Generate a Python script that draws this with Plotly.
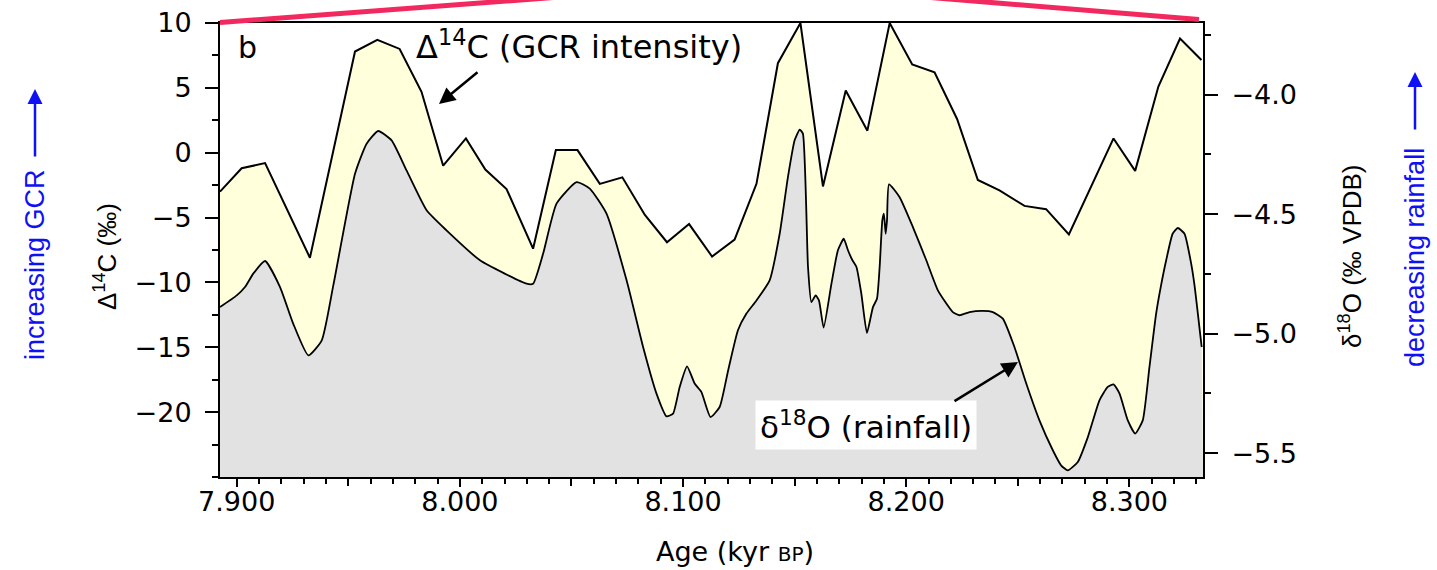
import plotly.graph_objects as go

# Radiocarbon record (Δ14C, per mil) – left axis
c14_age = [7.8925, 7.9022, 7.9127, 7.9328, 7.9530, 7.9630, 7.9730, 7.9828, 7.9925,
           8.0027, 8.0114, 8.0209, 8.0328, 8.0430, 8.0527, 8.0627, 8.0728, 8.0829,
           8.0928, 8.1027, 8.1130, 8.1231, 8.1329, 8.1425, 8.1526, 8.1627, 8.1729,
           8.1826, 8.1926, 8.2027, 8.2127, 8.2228, 8.2321, 8.2418, 8.2530, 8.2627,
           8.2729, 8.2929, 8.3026, 8.3130, 8.3227, 8.3323]
c14_val = [-3.0, -1.2, -0.8, -8.1, 7.8, 8.7, 8.0, 4.7, -1.0,
           1.1, -1.3, -2.8, -7.4, 0.2, 0.2, -2.4, -1.9, -4.8,
           -6.9, -5.5, -8.0, -6.7, -2.4, 6.9, 10.0, -2.6, 4.8,
           1.7, 10.0, 6.8, 6.2, 2.6, -2.1, -2.9, -4.1, -4.35,
           -6.3, 1.1, -1.4, 5.1, 8.8, 7.15]

# Speleothem oxygen isotopes (δ18O, per mil VPDB) – right axis
o18_age = [7.8925, 7.9000, 7.9037, 7.9074, 7.9127, 7.9194, 7.9253, 7.9321, 7.9381,
           7.9433, 7.9530, 7.9582, 7.9634, 7.9694, 7.9761, 7.9851, 7.9940, 8.0090,
           8.0299, 8.0328, 8.0373, 8.0433, 8.0523, 8.0582, 8.0657, 8.0747, 8.0821,
           8.0881, 8.0926, 8.0955, 8.0985, 8.1018, 8.1052, 8.1082, 8.1123, 8.1164,
           8.1202, 8.1246, 8.1284, 8.1329, 8.1388, 8.1433, 8.1470, 8.1500, 8.1523,
           8.1537, 8.1560, 8.1575, 8.1594, 8.1609, 8.1630, 8.1665, 8.1694, 8.1720,
           8.1739, 8.1759, 8.1777, 8.1799, 8.1824, 8.1851, 8.1869, 8.1881, 8.1893,
           8.1900, 8.1908, 8.1914, 8.1923, 8.1970, 8.2030, 8.2090, 8.2142, 8.2209,
           8.2239, 8.2284, 8.2343, 8.2388, 8.2433, 8.2485, 8.2538, 8.2597, 8.2657,
           8.2694, 8.2724, 8.2769, 8.2814, 8.2866, 8.2903, 8.2929, 8.2956, 8.2993,
           8.3026, 8.3060, 8.3090, 8.3120, 8.3142, 8.3165, 8.3194, 8.3217, 8.3247,
           8.3277, 8.3292, 8.3324]
o18_val = [-4.889, -4.840, -4.805, -4.749, -4.696, -4.805, -4.958, -5.091, -5.028,
           -4.797, -4.331, -4.205, -4.152, -4.191, -4.317, -4.484, -4.568, -4.693,
           -4.791, -4.791, -4.665, -4.456, -4.366, -4.393, -4.498, -4.777, -5.056,
           -5.251, -5.346, -5.335, -5.223, -5.137, -5.209, -5.244, -5.349, -5.307,
           -5.154, -4.986, -4.916, -4.861, -4.777, -4.582, -4.345, -4.191, -4.146,
           -4.163, -4.721, -4.868, -4.840, -4.861, -4.975, -4.791, -4.651, -4.603,
           -4.651, -4.693, -4.721, -4.833, -4.997, -4.889, -4.854, -4.721, -4.526,
           -4.498, -4.582, -4.526, -4.375, -4.428, -4.554, -4.693, -4.819, -4.910,
           -4.923, -4.910, -4.905, -4.910, -4.937, -5.056, -5.209, -5.363, -5.488,
           -5.551, -5.572, -5.537, -5.433, -5.279, -5.223, -5.212, -5.251, -5.363,
           -5.418, -5.363, -5.140, -4.916, -4.798, -4.693, -4.582, -4.558, -4.582,
           -4.707, -4.798, -5.056]

x_range = [7.8925, 8.333]
c14_range = [-25, 10]
o18_range = [-5.6, -3.70]

x_ticks = [7.90, 8.00, 8.10, 8.20, 8.30]
x_labels = ["7.900", "8.000", "8.100", "8.200", "8.300"]
x_half_ticks = [7.95, 8.05, 8.15, 8.25]
c14_ticks = [-20, -15, -10, -5, 0, 5, 10]
o18_ticks = [-5.5, -5.0, -4.5, -4.0]

YELLOW = "#ffffdc"
GRAY = "#e2e2e2"
BLUE = "#1010f5"
PINK = "#f2295f"
FONT = "DejaVu Sans, Arial, sans-serif"
ROT_FONT = "Liberation Sans, Arial, sans-serif"

# page layout in pixels
W, H = 1437, 570
L, R, T, B = 220, 1203, 23, 477


def fx(px):
    return (px - L) / (R - L)


def fy(py):
    return (B - py) / (B - T)


fig = go.Figure()

# yellow band: Δ14C filled down to the bottom of the left axis
fig.add_trace(go.Scatter(x=x_range, y=[c14_range[0]] * 2, mode="lines",
                         line=dict(width=0), showlegend=False, hoverinfo="skip"))
fig.add_trace(go.Scatter(x=c14_age, y=c14_val, mode="lines", fill="tonexty",
                         fillcolor=YELLOW, line=dict(color="black", width=2),
                         showlegend=False))

# gray band: δ18O filled down to the bottom of the right axis
fig.add_trace(go.Scatter(x=x_range, y=[o18_range[0]] * 2, mode="lines", yaxis="y2",
                         line=dict(width=0), showlegend=False, hoverinfo="skip"))
fig.add_trace(go.Scatter(x=o18_age, y=o18_val, mode="lines", yaxis="y2", fill="tonexty",
                         fillcolor=GRAY, line=dict(color="black", width=1.8,
                                                   shape="spline", smoothing=0.5),
                         showlegend=False))

# invisible anchor so the half-step tick axis is drawn
fig.add_trace(go.Scatter(x=[x_range[0]], y=[c14_range[0]], xaxis="x2", mode="markers",
                         marker=dict(opacity=0), showlegend=False, hoverinfo="skip"))

axis_common = dict(showgrid=False, zeroline=False, showline=True, linecolor="black",
                   linewidth=2, ticks="outside", tickcolor="black", tickwidth=1.5,
                   automargin=False,
                   tickfont=dict(family=FONT, size=27, color="black"))

fig.update_layout(
    width=W, height=H,
    margin=dict(l=L, r=W - R, t=T, b=H - B),
    paper_bgcolor="white", plot_bgcolor="white",
    xaxis=dict(range=x_range, tickvals=x_ticks, ticktext=x_labels, ticklen=8,
               mirror=True, ticklabelstandoff=-8,
               minor=dict(dtick=0.01, tick0=7.9, ticklen=5, tickwidth=1.5,
                          ticks="outside", tickcolor="black"),
               **axis_common),
    xaxis2=dict(range=x_range, overlaying="x", side="bottom", tickvals=x_half_ticks,
                ticks="outside", ticklen=8, tickwidth=1.5, tickcolor="black",
                showticklabels=False, showline=False, showgrid=False, zeroline=False,
                automargin=False),
    yaxis=dict(range=c14_range, tickvals=c14_ticks, ticklen=13, ticklabelstandoff=8,
               minor=dict(dtick=2.5, tick0=0, ticklen=6, tickwidth=1.5,
                          ticks="outside", tickcolor="black"),
               **axis_common),
    yaxis2=dict(range=o18_range, tickvals=o18_ticks, tickformat=".1f", overlaying="y",
                side="right", ticklen=13, ticklabelstandoff=8,
                minor=dict(dtick=0.25, tick0=-5.5, ticklen=6, tickwidth=1.5,
                           ticks="outside", tickcolor="black"),
                **axis_common),
)

annotations = [
    # panel letter
    dict(x=fx(236), y=fy(48), text="b", xanchor="left", yanchor="middle",
         font=dict(family=FONT, size=30, color="black")),
    # series labels
    dict(x=fx(414), y=fy(45), text="Δ<sup>14</sup>C (GCR intensity)", xanchor="left",
         yanchor="middle", font=dict(family=FONT, size=32, color="black")),
    dict(x=fx(755), y=fy(425), text="δ<sup>18</sup>O (rainfall)", xanchor="left",
         yanchor="middle", bgcolor="white", borderpad=4,
         font=dict(family=FONT, size=31, color="black")),
    # pointer arrows
    dict(x=fx(439), y=fy(104), ax=479 - 439, ay=71 - 104, text="", showarrow=True,
         arrowhead=2, arrowsize=1.3, arrowwidth=2.5, arrowcolor="black"),
    dict(x=fx(1018), y=fy(362), ax=953 - 1018, ay=402 - 362, text="", showarrow=True,
         arrowhead=2, arrowsize=1.3, arrowwidth=2.5, arrowcolor="black"),
    # axis titles
    dict(x=fx(735), y=fy(551), text="Age (kyr <span style='font-size:20px'>BP</span>)",
         xanchor="center", yanchor="middle", font=dict(family=FONT, size=27, color="black")),
    dict(x=fx(105), y=fy(257), text="Δ<sup>14</sup>C (‰)", textangle=-90,
         xanchor="center", yanchor="middle", font=dict(family=ROT_FONT, size=26, color="black")),
    dict(x=fx(1350), y=fy(256), text="δ<sup>18</sup>O (‰ VPDB)", textangle=-90,
         xanchor="center", yanchor="middle", font=dict(family=ROT_FONT, size=26, color="black")),
    # direction hints
    dict(x=fx(35), y=fy(265), text="increasing GCR", textangle=-90,
         xanchor="center", yanchor="middle", font=dict(family=ROT_FONT, size=27, color=BLUE)),
    dict(x=fx(1415), y=fy(258), text="decreasing rainfall", textangle=-90,
         xanchor="center", yanchor="middle", font=dict(family=ROT_FONT, size=27, color=BLUE)),
    dict(x=fx(35), y=fy(89), ax=0, ay=158 - 89, text="", showarrow=True,
         arrowhead=2, arrowsize=1.2, arrowwidth=2.5, arrowcolor=BLUE),
    dict(x=fx(1415), y=fy(72), ax=0, ay=131 - 72, text="", showarrow=True,
         arrowhead=2, arrowsize=1.2, arrowwidth=2.5, arrowcolor=BLUE),
]
for a in annotations:
    a.setdefault("showarrow", False)
    a.update(xref="paper", yref="paper")
fig.update_layout(annotations=annotations)

# zoom-window connector lines running up from the plot corners
fig.update_layout(shapes=[
    dict(type="line", xref="paper", yref="paper", x0=fx(220), y0=fy(22.5),
         x1=fx(620), y1=fy(-7.5), line=dict(color=PINK, width=5)),
    dict(type="line", xref="paper", yref="paper", x0=fx(1199), y0=fy(19.5),
         x1=fx(900), y1=fy(-5), line=dict(color=PINK, width=5)),
])

fig.write_html("out.html")
